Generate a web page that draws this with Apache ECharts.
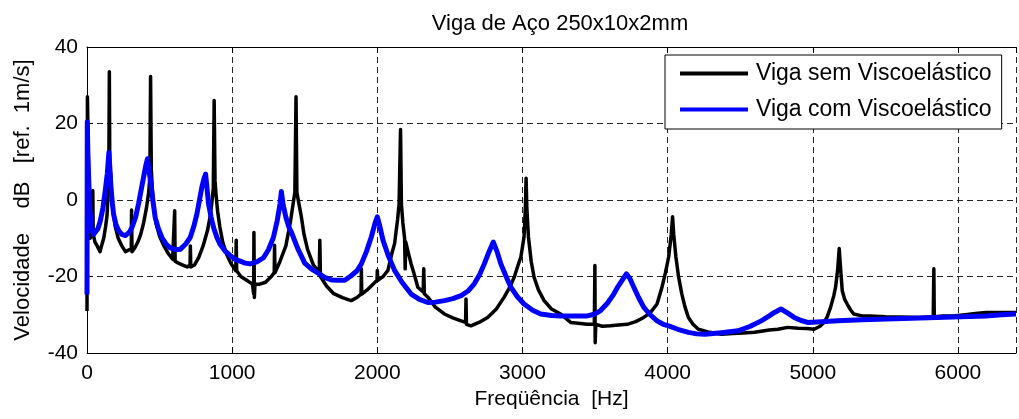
<!DOCTYPE html>
<html>
<head>
<meta charset="utf-8">
<script src="https://cdn.jsdelivr.net/npm/echarts@6/dist/echarts.min.js"></script>
<style>
  html, body { margin: 0; padding: 0; background: #fff; }
  #chart { width: 1019px; height: 419px; }
</style>
</head>
<body>
<div id="chart"></div>
<script>
// Frequency response of a 250x10x2 mm steel beam: velocity level vs frequency
const chartTitle = 'Viga de Aço 250x10x2mm';
const seriesNames = ['Viga sem Viscoelástico', 'Viga com Viscoelástico'];
const xTicks = [0, 1000, 2000, 3000, 4000, 5000, 6000];
const yTicks = [-40, -20, 0, 20, 40];

// [frequency Hz, level dB] — beam without viscoelastic layer
const semVisco = [
  [0,-29],[3,27],[8,27.5],[12,5],[16,-8],[22,-10],[30,-9],[38,-8],[40,2.5],[43,-9],[55,-11],[70,-12],
  [90,-13.5],[100,-12],[115,-10],[128,-7],[138,-4],[146,2],[150,5],[154,33.5],[157,8],[163,7],[170,2],
  [180,-3],[195,-7],[215,-10],[240,-12],[265,-13.5],[290,-13],[305,-13],[307,-2.6],[310,-13.5],[330,-12.5],
  [350,-11],[370,-9],[390,-6],[410,-2],[425,2],[433,6],[438,32.3],[443,8],[450,3],[460,-2],[475,-6],
  [500,-9.5],[530,-12],[560,-14],[590,-15.5],[602,-16],[604,-2.8],[607,-16],[630,-16.5],[660,-17],
  [690,-17.5],[710,-17],[712,-12],[715,-17.5],[740,-17],[770,-15],[800,-12],[830,-8],[850,-4],[862,0],
  [870,3],[876,26],[882,5],[890,1],[900,-3],[915,-7],[935,-11],[960,-14],[990,-16.5],[1025,-18.5],
  [1028,-10.5],[1031,-18.5],[1060,-20],[1100,-21],[1140,-22],[1148,-24.5],[1150,-8.5],[1153,-25.5],
  [1157,-22],[1190,-22],[1230,-21.5],[1270,-20],[1290,-19],[1292,-11.8],[1295,-19],[1330,-16],[1370,-12],
  [1400,-6],[1420,-1],[1432,2],[1440,27],[1446,2],[1460,-1],[1475,-4],[1495,-9],[1520,-13],[1560,-17],
  [1600,-19],[1604,-10.5],[1608,-20],[1650,-22.5],[1700,-24.5],[1760,-25.5],[1820,-26.3],[1860,-25.5],
  [1888,-24.6],[1890,-18],[1893,-24.6],[1930,-23.5],[1970,-22],[1998,-21],[2000,-18.4],[2003,-21],
  [2040,-20],[2073,-18.4],[2100,-14],[2119,-11.4],[2140,-5],[2150,-1],[2160,18.4],[2166,-1],[2176,-6],
  [2188,-10],[2192,-18],[2196,-11],[2215,-14],[2233,-16.7],[2255,-19.5],[2279,-22.8],[2316,-24],
  [2320,-18],[2324,-24.5],[2348,-25.4],[2400,-28],[2462,-29.8],[2520,-30.8],[2577,-31.6],[2608,-32],
  [2611,-25.9],[2614,-32.5],[2645,-32.9],[2700,-32],[2760,-30.7],[2820,-28.5],[2874,-25.4],[2910,-23],
  [2943,-20.2],[2970,-17],[2989,-14.9],[3011,-9.6],[3020,-2],[3025,5.7],[3030,-2],[3041,-9.6],
  [3060,-16],[3080,-20.2],[3110,-23.5],[3149,-26.3],[3200,-28.5],[3263,-29.8],[3332,-32],[3400,-32.3],
  [3446,-32.5],[3495,-32.5],[3499,-17.1],[3501,-37.3],[3505,-32.5],[3550,-33],[3606,-32.9],[3660,-32.7],
  [3721,-32.5],[3780,-31.8],[3835,-30.7],[3880,-29.5],[3927,-27.2],[3961,-22.8],[3985,-19],[4007,-14.9],
  [4025,-9],[4034,-4.4],[4042,-9],[4057,-14.9],[4075,-20],[4098,-24.6],[4120,-28],[4143,-30.7],
  [4175,-32.5],[4212,-33.8],[4290,-34.6],[4371,-35.1],[4450,-34.9],[4520,-34.8],[4599,-34.6],[4700,-34],
  [4760,-33.8],[4827,-33.3],[4900,-33.5],[4960,-33.6],[5009,-33.8],[5050,-33],[5077,-32],[5100,-30.5],
  [5123,-28],[5145,-25],[5157,-22.8],[5172,-18],[5182,-12.7],[5190,-17],[5203,-23.7],[5220,-26],
  [5237,-27.2],[5260,-28.7],[5282,-29.8],[5340,-30.3],[5396,-30.3],[5500,-30.5],[5600,-30.6],
  [5738,-30.7],[5830,-30.5],[5834,-18],[5837,-30.5],[5900,-30.3],[5966,-30.3],[6050,-30],[6120,-29.7],
  [6194,-29.4],[6280,-29.4],[6400,-29.4]
];

// [frequency Hz, level dB] — beam with viscoelastic layer
const comVisco = [
  [0,-24.7],[2,20.4],[6,12],[12,5],[20,-3],[30,-7.2],[45,-9],[57,-9.5],[75,-7.5],[92,-5.4],[110,-2],
  [126,2.5],[140,7],[151,12.5],[158,8],[165,3.3],[175,-1],[183,-3.7],[200,-6.5],[218,-8],[240,-9],
  [264,-9.3],[290,-8.5],[310,-7.2],[335,-4.5],[355,-1],[375,3],[390,6],[405,9],[417,10.8],[428,7.5],
  [440,4.2],[455,-0.5],[470,-4.6],[492,-7.5],[516,-9.8],[545,-11.5],[573,-12.5],[610,-13],[642,-12.9],
  [680,-11.5],[711,-9.8],[735,-7],[757,-3.7],[775,0],[791,3.3],[805,5.5],[817,6.8],[827,3],[837,-0.9],
  [855,-4.5],[872,-7.2],[895,-9.8],[917,-11.6],[950,-13.3],[986,-14.5],[1020,-15.5],[1055,-16],
  [1090,-16.5],[1124,-16.7],[1170,-16.2],[1216,-15.1],[1250,-13],[1284,-9.8],[1310,-5.5],[1330,-1],
  [1339,2.2],[1350,-1],[1370,-4.5],[1390,-7],[1410,-8.6],[1450,-12.5],[1500,-16.5],[1545,-18],
  [1593,-19.1],[1640,-20.3],[1684,-20.9],[1730,-21],[1776,-21],[1820,-19.8],[1860,-18.5],[1890,-16.7],
  [1925,-13.5],[1959,-9.6],[1985,-6],[2000,-4.4],[2015,-6.5],[2039,-10.5],[2075,-14.5],[2119,-18.4],
  [2170,-21.5],[2233,-24.6],[2290,-26],[2348,-26.8],[2400,-26.7],[2462,-26.3],[2520,-25.8],[2577,-25],
  [2625,-23.8],[2668,-21.9],[2705,-19.5],[2737,-16.7],[2770,-13.5],[2799,-11],[2825,-13.5],[2851,-16.7],
  [2885,-19.8],[2920,-22.8],[2965,-25.3],[3011,-27.2],[3070,-28.8],[3126,-29.8],[3200,-30.2],
  [3263,-30.3],[3350,-30.3],[3446,-30.3],[3500,-29.8],[3538,-28.9],[3585,-27],[3629,-24.6],[3660,-22.5],
  [3686,-21],[3716,-19.3],[3740,-20.5],[3767,-22.8],[3800,-25.5],[3835,-28],[3880,-30],[3927,-31.6],
  [3970,-32.5],[4007,-32.9],[4070,-33.8],[4143,-34.6],[4200,-35],[4257,-35.1],[4370,-34.7],[4485,-34.2],
  [4570,-33],[4645,-31.6],[4700,-30.3],[4736,-29.4],[4781,-28.5],[4825,-29.5],[4872,-30.7],[4920,-31.5],
  [4964,-32],[5060,-31.8],[5169,-31.6],[5340,-31.3],[5510,-31.1],[5680,-30.9],[5852,-30.7],[6020,-30.5],
  [6194,-30.3],[6300,-30],[6400,-29.8]
];

const FONT = "'Liberation Sans', Arial, Helvetica, sans-serif";
const chart = echarts.init(document.getElementById('chart'), null, { renderer: 'canvas' });

const gridDash = { color: '#000', width: 1, type: [6, 4], opacity: 0.85 };
const tickSet = new Set(xTicks);

chart.setOption({
  animation: false,
  backgroundColor: '#fff',
  title: {
    text: chartTitle,
    left: 555,
    top: 8,
    textAlign: 'center',
    textStyle: { fontFamily: FONT, fontSize: 22, fontWeight: 'normal', color: '#000' }
  },
  grid: { left: 87, right: -5, top: 47, bottom: 66 },
  legend: {
    orient: 'vertical',
    left: 665,
    top: 55,
    padding: [7, 10, 8, 15],
    itemGap: 13,
    itemWidth: 68,
    itemHeight: 4,
    icon: 'rect',
    selectedMode: false,
    backgroundColor: '#fff',
    borderColor: '#000',
    borderWidth: 1,
    borderRadius: 0,
    textStyle: { fontFamily: FONT, fontSize: 23, color: '#000', padding: [0, 0, 0, 3] },
    data: seriesNames
  },
  xAxis: [{
    type: 'value',
    min: 0,
    max: 6400,
    interval: 1000,
    name: 'Freqüência  [Hz]',
    nameLocation: 'middle',
    nameGap: 33,
    nameTextStyle: { fontFamily: FONT, fontSize: 21, color: '#000' },
    axisLine: { show: true, onZero: false, lineStyle: { color: '#000', width: 1 } },
    axisTick: { show: true, inside: true, length: 6, lineStyle: { color: '#000' } },
    axisLabel: {
      fontFamily: FONT, fontSize: 21, color: '#000', margin: 10,
      formatter: v => (tickSet.has(v) ? String(v) : '')
    },
    splitLine: { show: true, lineStyle: gridDash }
  }, {
    type: 'value',
    position: 'top',
    min: 0,
    max: 6400,
    interval: 1000,
    axisLine: { show: true, onZero: false, lineStyle: { color: '#000', width: 1 } },
    axisTick: { show: true, inside: true, length: 6, lineStyle: { color: '#000' } },
    axisLabel: { show: false },
    splitLine: { show: false }
  }],
  yAxis: {
    type: 'value',
    min: yTicks[0],
    max: yTicks[yTicks.length - 1],
    interval: 20,
    name: 'Velocidade    dB   [ref.  1m/s]',
    nameLocation: 'middle',
    nameRotate: 90,
    nameGap: 53,
    nameTextStyle: { fontFamily: FONT, fontSize: 22, color: '#000' },
    axisLine: { show: true, onZero: false, lineStyle: { color: '#000', width: 1 } },
    axisTick: { show: true, inside: true, length: 6, lineStyle: { color: '#000' } },
    axisLabel: { fontFamily: FONT, fontSize: 21, color: '#000', margin: 9 },
    splitLine: { show: true, lineStyle: gridDash }
  },
  series: [{
    name: seriesNames[0],
    type: 'line',
    data: semVisco,
    showSymbol: false,
    symbol: 'none',
    color: '#000',
    lineStyle: { color: '#000', width: 3.5, join: 'round' },
    z: 2
  }, {
    name: seriesNames[1],
    type: 'line',
    data: comVisco,
    showSymbol: false,
    symbol: 'none',
    color: '#0000ff',
    lineStyle: { color: '#0000ff', width: 5, join: 'round' },
    z: 3
  }]
});
</script>
</body>
</html>
